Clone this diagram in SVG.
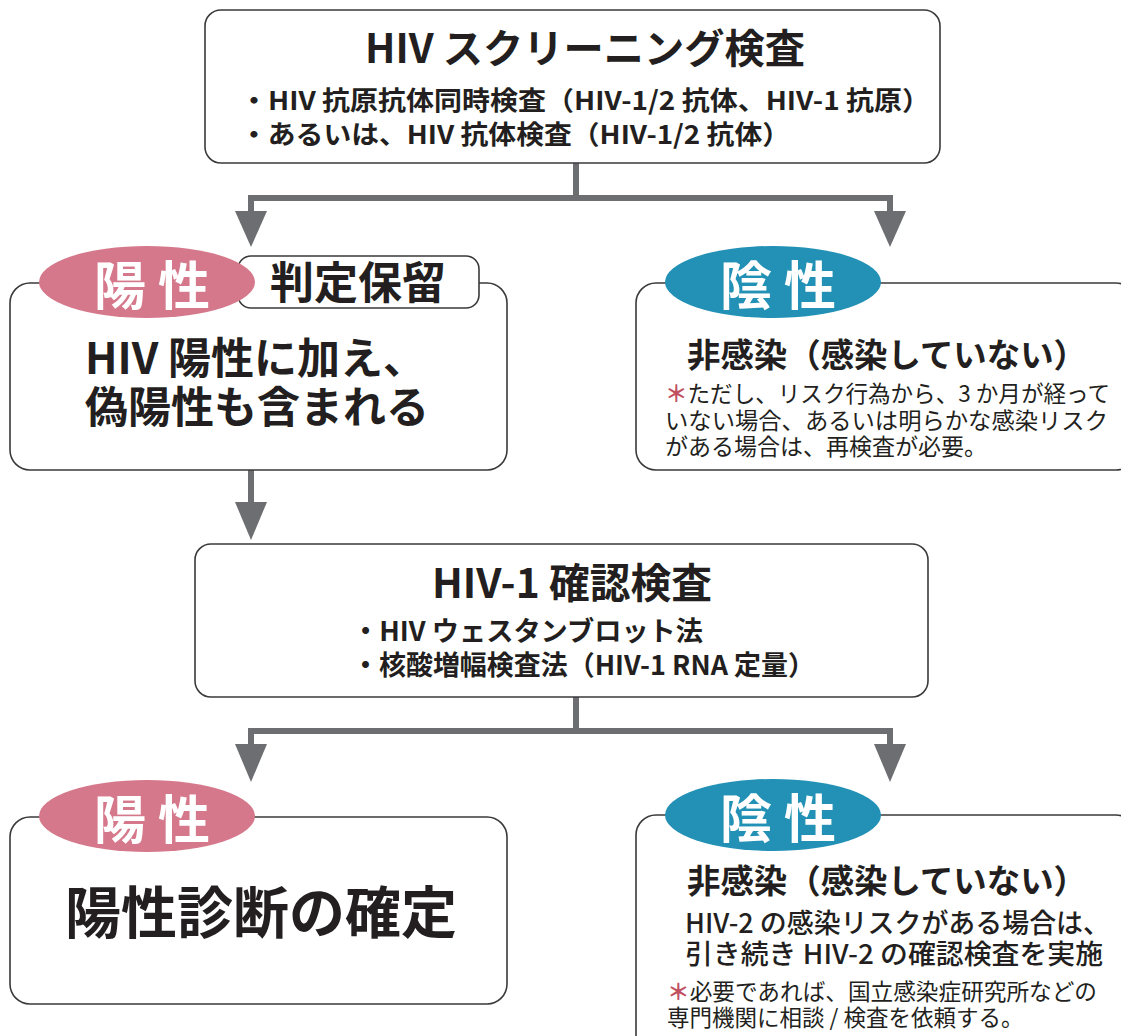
<svg xmlns="http://www.w3.org/2000/svg" width="1121" height="1036" viewBox="0 0 1121 1036">
<style>
text{font-family:"Noto Sans CJK JP","Noto Sans",sans-serif;fill:#231f20}
.box{fill:#fff;stroke:#3a3a3a;stroke-width:1.6}
.pos{fill:#d5788b}
.neg{fill:#2291b5}
.lbl{fill:#fff;font-weight:700;font-size:52px}
.b{font-weight:700}
.m{font-weight:500}
.r{font-weight:400}
.ast{fill:#c0505f;font-weight:700}
.ln{fill:none;stroke:#6d6e71;stroke-width:6}
.ah{fill:#6d6e71}
</style>
<rect width="1121" height="1036" fill="#fff"/>
<g id="connectors">
<path class="ln" d="M576 163V198M248 198H893M251 198V215M890 198V215"/>
<polygon class="ah" points="235,211 267,211 251,247"/>
<polygon class="ah" points="874,211 906,211 890,247"/>
<path class="ln" d="M251 470V506"/>
<polygon class="ah" points="235,502 267,502 251,540"/>
<path class="ln" d="M576 697V731M248 731H893M251 731V748M890 731V748"/>
<polygon class="ah" points="235,744 267,744 251,782"/>
<polygon class="ah" points="874,744 906,744 890,782"/>
</g>
<g id="screening">
<rect class="box" x="205" y="10" width="735" height="153" rx="16"/>
<text class="b" x="365" y="63" font-size="40" textLength="440" lengthAdjust="spacingAndGlyphs">HIV スクリーニング検査</text>
<text class="b" x="240" y="110" font-size="26" textLength="690" lengthAdjust="spacingAndGlyphs">・HIV 抗原抗体同時検査（HIV-1/2 抗体、HIV-1 抗原）</text>
<text class="b" x="240" y="144" font-size="26" textLength="550" lengthAdjust="spacingAndGlyphs">・あるいは、HIV 抗体検査（HIV-1/2 抗体）</text>
</g>
<g id="positive1">
<rect class="box" x="10" y="283" width="497" height="187" rx="20"/>
<rect class="box" x="238" y="256" width="241" height="52" rx="13"/>
<ellipse class="pos" cx="147" cy="282" rx="108" ry="36"/>
<text class="lbl" x="152" y="282" text-anchor="middle" dominant-baseline="central">陽 性</text>
<text class="b" x="358" y="299" font-size="44" text-anchor="middle">判定保留</text>
<text class="b" x="85" y="374" font-size="43">HIV 陽性に加え、</text>
<text class="b" x="85" y="423" font-size="43">偽陽性も含まれる</text>
</g>
<g id="negative1">
<rect class="box" x="636" y="283" width="500" height="187" rx="20"/>
<ellipse class="neg" cx="773" cy="282" rx="108" ry="36"/>
<text class="lbl" x="778" y="282" text-anchor="middle" dominant-baseline="central">陰 性</text>
<text class="b" x="687" y="367" font-size="33" textLength="400" lengthAdjust="spacingAndGlyphs">非感染（感染していない）</text>
<text class="r" x="665" y="402" font-size="23" textLength="445" lengthAdjust="spacingAndGlyphs"><tspan class="ast">＊</tspan>ただし、リスク行為から、3 か月が経って</text>
<text class="r" x="665" y="429" font-size="23" textLength="443" lengthAdjust="spacingAndGlyphs">いない場合、あるいは明らかな感染リスク</text>
<text class="r" x="665" y="455" font-size="23">がある場合は、再検査が必要。</text>
</g>
<g id="confirm">
<rect class="box" x="195" y="544" width="733" height="153" rx="16"/>
<text class="b" x="432" y="598" font-size="41" textLength="280" lengthAdjust="spacingAndGlyphs">HIV-1 確認検査</text>
<text class="b" x="352" y="641" font-size="27" textLength="351" lengthAdjust="spacingAndGlyphs">・HIV ウェスタンブロット法</text>
<text class="b" x="352" y="675" font-size="27" textLength="463" lengthAdjust="spacingAndGlyphs">・核酸増幅検査法（HIV-1 RNA 定量）</text>
</g>
<g id="positive2">
<rect class="box" x="10" y="817" width="497" height="187" rx="20"/>
<ellipse class="pos" cx="147" cy="816" rx="108" ry="36"/>
<text class="lbl" x="152" y="816" text-anchor="middle" dominant-baseline="central">陽 性</text>
<text class="b" x="261" y="933" font-size="56" text-anchor="middle">陽性診断の確定</text>
</g>
<g id="negative2">
<rect class="box" x="636" y="815" width="500" height="240" rx="20"/>
<ellipse class="neg" cx="773" cy="815" rx="108" ry="36"/>
<text class="lbl" x="778" y="815" text-anchor="middle" dominant-baseline="central">陰 性</text>
<text class="b" x="687" y="893" font-size="33" textLength="400" lengthAdjust="spacingAndGlyphs">非感染（感染していない）</text>
<text class="m" x="685" y="933" font-size="27" textLength="425" lengthAdjust="spacingAndGlyphs">HIV-2 の感染リスクがある場合は、</text>
<text class="m" x="685" y="964" font-size="27" textLength="418" lengthAdjust="spacingAndGlyphs">引き続き HIV-2 の確認検査を実施</text>
<text class="r" x="667" y="1000" font-size="22.5" textLength="430" lengthAdjust="spacingAndGlyphs"><tspan class="ast">＊</tspan>必要であれば、国立感染症研究所などの</text>
<text class="r" x="667" y="1026" font-size="22.5">専門機関に相談 / 検査を依頼する。</text>
</g>
</svg>
